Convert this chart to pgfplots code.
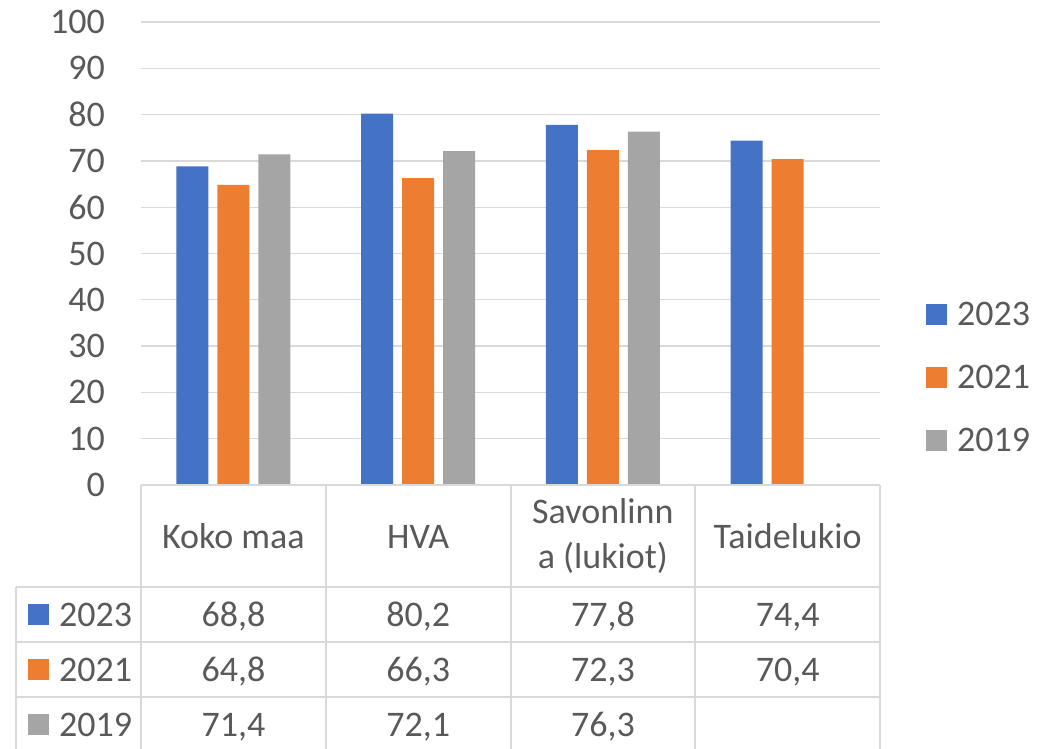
\documentclass[border=0pt]{standalone}
\usepackage{fontspec}
\setmainfont{Carlito}
\usepackage{pgfplots}
\usepackage{pgfplotstable}
\pgfplotsset{compat=1.18}

\definecolor{c23}{HTML}{4472C4}
\definecolor{c21}{HTML}{ED7D31}
\definecolor{c19}{HTML}{A5A5A5}
\definecolor{txt}{HTML}{595959}
\definecolor{gridc}{HTML}{D9D9D9}
\newcommand\chartfont{\fontsize{36bp}{45bp}\selectfont}

% results per category (nan = no value)
\pgfplotstableread{
idx y2023 y2021 y2019
0   68.8  64.8  71.4
1   80.2  66.3  72.1
2   77.8  72.3  76.3
3   74.4  70.4  nan
}\results

% one row of the data table under the chart
\pgfplotsset{tablerow/.style={sharp plot, draw=none, mark=none, forget plot,
    point meta=explicit, nodes near coords,
    every node near coord/.style={anchor=base, inner sep=0pt, yshift=#1,
      font=\chartfont, text=txt,
      /pgf/number format/.cd, fixed, fixed zerofill, precision=1, use comma}}}

\begin{document}
\begin{tikzpicture}[x=1bp,y=1bp]
\useasboundingbox (0,0) rectangle (1064,749);
\begin{axis}[
    at={(141bp,264bp)}, anchor=south west,
    scale only axis, width=739bp, height=463bp,
    ybar=9bp, bar width=32bp,
    xmin=-0.5, xmax=3.5, ymin=0, ymax=100,
    xtick={0,1,2,3},
    xticklabels={Koko maa, HVA, {Savonlinn\\a (lukiot)}, Taidelukio},
    ytick={0,10,...,100},
    major tick length=0pt,
    axis line style={draw=none},
    ymajorgrids, major grid style={gridc, line width=1.3bp},
    tick label style={font=\chartfont, text=txt},
    xticklabel style={anchor=center, align=center, inner sep=0pt, yshift=-51.5bp},
    yticklabel style={anchor=east, inner sep=0pt, xshift=-36bp},
    /pgf/number format/assume math mode=true,
    clip=false,
    legend style={at={(1.0622,0.3948)}, anchor=north west, draw=none, fill=none,
      inner sep=0pt, row sep=38bp, column sep=10bp,
      font=\chartfont, text=txt, nodes={inner sep=0pt}},
    legend cell align=left,
    legend image code/.code={\fill[#1] (0bp,-10.5bp) rectangle (21bp,10.5bp);},
]
\addplot[fill=c23, draw=none] table[x=idx, y=y2023] {\results};
\addlegendentry{2023}
\addplot[fill=c21, draw=none] table[x=idx, y=y2021] {\results};
\addlegendentry{2021}
\addplot[fill=c19, draw=none] table[x=idx, y=y2019] {\results};
\addlegendentry{2019}

\addplot[tablerow=-141.5bp] table[x=idx, y expr=0, meta=y2023] {\results};
\addplot[tablerow=-196.5bp] table[x=idx, y expr=0, meta=y2021] {\results};
% no 2019 value for Taidelukio
\addplot[tablerow=-251.5bp, skip coords between index={3}{4}]
  table[x=idx, y expr=0, meta=y2019] {\results};
\end{axis}

% data table grid
\begin{scope}[gridc, line width=2bp]
  \draw (141,264) -- (880,264);
  \foreach \y in {162,107,52} \draw (16,\y) -- (880,\y);
  \draw (16,162) -- (16,-3);
  \foreach \x in {141,325.75,510.5,695.25,880} \draw (\x,264) -- (\x,-3);
\end{scope}

% series keys in the table
\foreach \col/\lab/\b in {c23/2023/122.5, c21/2021/67.5, c19/2019/12.5} {
  \fill[\col] (28,\b+1.5) rectangle (49,\b+22.5);
  \node[anchor=base west, inner sep=0pt, font=\chartfont, text=txt] at (59,\b) {\lab};
}
\end{tikzpicture}
\end{document}
